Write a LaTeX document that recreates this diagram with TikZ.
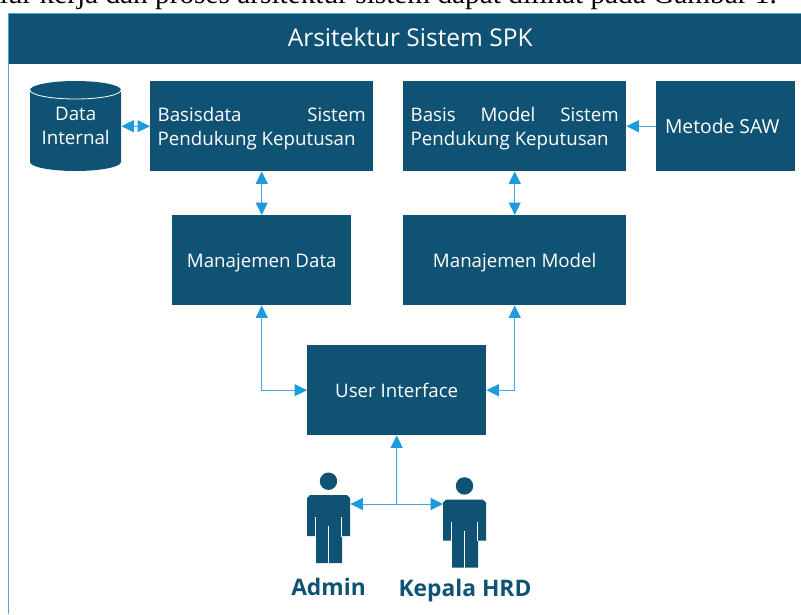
\documentclass[tikz,border=0pt]{standalone}
\usepackage{fontspec}
\setmainfont{Open Sans}
\newfontfamily\serifface{Liberation Serif}
\usetikzlibrary{arrows.meta}
\definecolor{navy}{HTML}{0F5274}
\definecolor{sky}{HTML}{1C9CDC}
\definecolor{skyline}{HTML}{3FA9E0}
\tikzset{
  box/.style={fill=navy,draw=none,text=white,inner sep=0pt,font=\fontsize{18.7}{24}\selectfont,align=center},
  single/.style={text height=19pt,text depth=5pt},
  ghost/.style={draw=none,fill=none,inner sep=0pt},
  link/.style={draw=skyline,line width=1pt},
  one/.style={link,-{Triangle[length=12.5pt,width=12pt,color=sky]}},
  both/.style={link,{Triangle[length=12.5pt,width=12pt,color=sky]}-{Triangle[length=12.5pt,width=12pt,color=sky]}},
  who/.style={text=navy,inner sep=0pt,font=\fontsize{22.8}{26}\selectfont\bfseries},
  body/.pic={
    \fill[navy] (21.5,8.2) circle (8.7);
    \fill[navy] (3,22) -- (40,22) -- (43,25) -- (43,63) -- (35,63) -- (35,90) -- (9,90) -- (9,63) -- (0,63) -- (0,25) -- cycle;
    \draw[white,line width=0.8pt] (8.4,44) -- (8.4,63.5) (34.8,44) -- (34.8,63.5) (21.5,53) -- (21.5,90.5);
  }
}
\begin{document}
\begin{tikzpicture}[x=1pt,y=-1pt]
\useasboundingbox (0,0) rectangle (801,614);
\clip (0,0) rectangle (801,614);
\node[anchor=base east,inner sep=0pt,font=\serifface\fontsize{29.3}{32}\selectfont] (caption) at (777,3.5) {alur kerja dan proses arsitektur sistem dapat dilihat pada Gambar 1.};
% frame and header
\draw[draw=skyline,line width=1pt] (8.5,614) -- (8.5,13) -- (801,13);
\node[box,anchor=north west,text height=20pt,text depth=4pt,minimum width=792,minimum height=50,font=\fontsize{24.5}{28}\selectfont] (head) at (9,13.5) {\hspace{10pt}Arsitektur Sistem SPK};
% cylinder
\fill[navy] (30,90) arc[start angle=180,end angle=360,x radius=45.5,y radius=9] -- (121,162) arc[start angle=0,end angle=180,x radius=45.5,y radius=9] -- cycle;
\draw[white,line width=0.8pt] (30,90) arc[start angle=180,end angle=0,x radius=45.5,y radius=9];
\node[ghost,anchor=north west,minimum width=91,minimum height=90,text=white,align=center,font=\fontsize{18.7}{24}\selectfont] (dataint) at (30,81) {Data\\Internal};
% boxes
\node[box,anchor=north west,minimum width=223,minimum height=90] (basisdata) at (150,81) {\parbox{208pt}{\vspace{4pt}\raggedright Basisdata\hfill Sistem\\Pendukung Keputusan}};
\node[box,anchor=north west,minimum width=223,minimum height=90] (basismodel) at (403,81) {\parbox{208pt}{\vspace{4pt}\raggedright Basis\hfill Model\hfill Sistem\\Pendukung Keputusan}};
\node[box,single,anchor=north west,minimum width=139,minimum height=90,font=\fontsize{19.3}{24}\selectfont] (saw) at (656,81) {Metode SAW\hspace{7pt}};
\node[box,single,anchor=north west,minimum width=179,minimum height=90] (mandata) at (172,215) {Manajemen Data};
\node[box,single,anchor=north west,minimum width=223,minimum height=90] (manmodel) at (403,215) {Manajemen Model};
\node[box,single,anchor=north west,minimum width=179,minimum height=90] (ui) at (307,345) {User Interface};
% people
\pic at (307,473) {body};
\pic at (443,477.7) {body};
\node[ghost,anchor=north west,minimum width=43,minimum height=90] (admin) at (307,473) {};
\node[ghost,anchor=north west,minimum width=43,minimum height=90] (kepala) at (443,477.7) {};
\node[who] (adminlabel) at (328.5,587) {Admin};
\node[who] (kepalalabel) at (465,591) {Kepala HRD};
\coordinate (hub) at (396.5,504);
% connectors
\draw[both] (dataint.east) -- (basisdata.west);
\draw[one] (saw.west) -- (basismodel.east);
\draw[both] (basisdata.south) -- (mandata.north);
\draw[both] (basismodel.south) -- (manmodel.north);
\draw[both] (mandata.south) |- (ui.west);
\draw[both] (manmodel.south) |- (ui.east);
\draw[one] (hub) -- (ui.south);
\draw[both] (admin.east |- hub) -- (kepala.west |- hub);
\end{tikzpicture}
\end{document}
